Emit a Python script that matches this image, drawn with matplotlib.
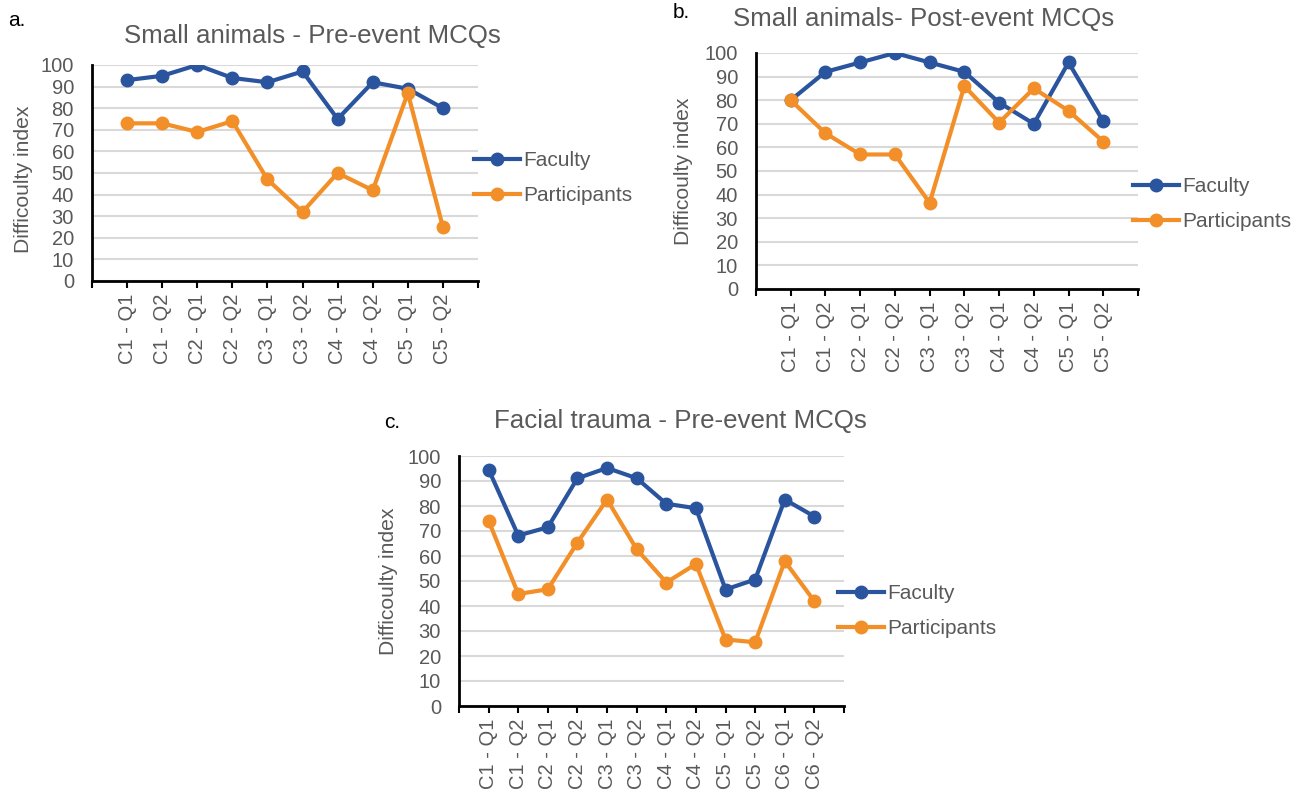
import matplotlib
matplotlib.use("Agg")
import matplotlib.pyplot as plt
import numpy as np

plt.rcParams['font.family'] = ['Liberation Sans', 'DejaVu Sans']

cats_ab = ["C1 - Q1", "C1 - Q2", "C2 - Q1", "C2 - Q2", "C3 - Q1", "C3 - Q2",
           "C4 - Q1", "C4 - Q2", "C5 - Q1", "C5 - Q2"]
cats_c = cats_ab + ["C6 - Q1", "C6 - Q2"]

a_faculty = [93, 95, 100, 94, 92, 97, 75, 92, 89, 80]
a_participants = [73, 73, 69, 74, 47, 32, 50, 42, 87, 25]

b_faculty = [80, 92, 96, 100, 96, 92, 79, 70, 96, 71]
b_participants = [80, 66, 57, 57, 36.5, 86, 70.5, 85, 75.5, 62.5]

c_faculty = [94.6, 68.2, 71.5, 91.1, 95.2, 91.1, 80.9, 79.1, 46.6, 50.6, 82.6, 75.8]
c_participants = [74.1, 44.8, 46.7, 65.4, 82.6, 62.7, 49.4, 56.8, 26.6, 25.5, 57.9, 41.9]

BLUE = '#2A559E'
ORANGE = '#F28F28'
GRAY = '#595959'
GRID = '#D9D9D9'

W, H = 1304, 795
fig = plt.figure(figsize=(W / 100, H / 100), dpi=100)


def px_axes(left, right, top, bottom):
    return fig.add_axes([left / W, (H - bottom) / H, (right - left) / W, (bottom - top) / H])


def panel(ax, cats, fac, par, ylab_x, ylab_y, leg_x, leg_y):
    n = len(cats)
    x = np.arange(1, n + 1)
    ax.plot(x, fac, color=BLUE, lw=3, marker='o', ms=9, label='Faculty', zorder=3)
    ax.plot(x, par, color=ORANGE, lw=3, marker='o', ms=9, label='Participants', zorder=3)
    ax.set_xlim(0, n + 1)
    ax.set_ylim(0, 100)
    ax.set_yticks(np.arange(0, 101, 10))
    ax.set_xticks(np.arange(0, n + 2))
    ax.set_xticklabels([''] + cats + [''], rotation=90)
    ax.tick_params(axis='y', length=0, pad=13, labelsize=14.5, labelcolor=GRAY)
    ax.tick_params(axis='x', length=5, width=1.5, pad=4, labelsize=14.5, labelcolor=GRAY, direction='out')
    for s in ['top', 'right']:
        ax.spines[s].set_visible(False)
    for s in ['left', 'bottom']:
        ax.spines[s].set_linewidth(2)
        ax.spines[s].set_color('black')
    ax.yaxis.grid(True, color=GRID, lw=1.5)
    ax.set_axisbelow(True)
    ax.set_ylabel('Difficoulty index', fontsize=15.2, color=GRAY)
    ax.yaxis.set_label_coords(ylab_x, ylab_y)
    ax.legend(loc='center left', bbox_to_anchor=(leg_x, leg_y), frameon=False,
              fontsize=15, handlelength=2.2, handletextpad=0.15, labelspacing=0.75,
              borderpad=0, borderaxespad=0, labelcolor=GRAY)


ax_a = px_axes(92, 478, 65, 281)
panel(ax_a, cats_ab, a_faculty, a_participants, -0.153, 0.472, 0.99, 0.476)
ax_b = px_axes(756, 1138, 53, 289)
panel(ax_b, cats_ab, b_faculty, b_participants, -0.165, 0.5, 0.987, 0.36)
ax_c = px_axes(459, 844, 456, 706)
panel(ax_c, cats_c, c_faculty, c_participants, -0.158, 0.5, 0.984, 0.38)

fig.text(312 / W, 1 - 36 / H, 'Small animals - Pre-event MCQs', ha='center', va='center', fontsize=18.6, color=GRAY)
fig.text(924 / W, 1 - 19 / H, 'Small animals- Post-event MCQs', ha='center', va='center', fontsize=18.6, color=GRAY)
fig.text(680 / W, 1 - 421 / H, 'Facial trauma - Pre-event MCQs', ha='center', va='center', fontsize=18.6, color=GRAY)

fig.text(8 / W, 1 - 20 / H, 'a.', ha='left', va='center', fontsize=15, color='black')
fig.text(673 / W, 1 - 12 / H, 'b.', ha='left', va='center', fontsize=15, color='black')
fig.text(384 / W, 1 - 422 / H, 'c.', ha='left', va='center', fontsize=15, color='black')

fig.savefig('out.png', dpi=100)
